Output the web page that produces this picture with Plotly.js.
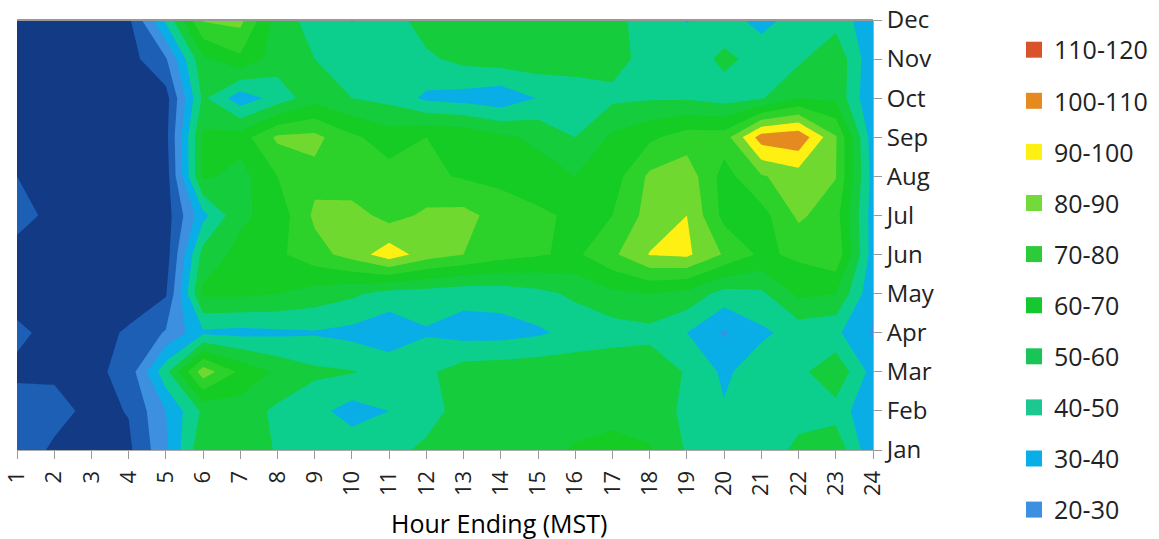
<!DOCTYPE html>
<html>
<head>
<meta charset="utf-8">
<script src="https://cdn.plot.ly/plotly-3.0.0.min.js"></script>
<style>html,body{margin:0;padding:0;background:#fff}#chart{width:1159px;height:539px}</style>
</head>
<body>
<div id="chart"></div>
<script>
const hours = [1,2,3,4,5,6,7,8,9,10,11,12,13,14,15,16,17,18,19,20,21,22,23,24];
const months = ['Jan','Feb','Mar','Apr','May','Jun','Jul','Aug','Sep','Oct','Nov','Dec'];
const jan = [17,8,6,8,28,58,57,49,47,46,47,52,57,57,58,60.5,62,61,49,44,45,52,57,32];
const feb = [15,14,7,10.5,30,52,55,48,43,36,40,46,54,56,57,58,58,55,48,41,44,47,46,31];
const mar = [8,8,7,14,47,86,68,58,52,50.5,47,48,55,56,57,57,58,57,49,38,46,47,58,36];
const apr = [12,7,7,11,21,38,37,38,39,37,33,39,36,36,38.5,43,45,47,40,29,38,44,42,29];
const may = [6,6,6,6,9,62,62,60,56,52,46,45,43,44,47,52,58,60,57,46,48,62,60,32];
const jun = [6,7,7,6,5,54,63,68,76,84,96,85,80,74,71,68,78,90.5,92,79,68,72,78,35];
const jul = [14,7,6,6,5,37,58,64,82,85,76,82,83,76,72,68,70,84,90,67,66,82,74,35];
const aug = [10,6,6,6,5,62,56,70,77,72,74,72,69,67,64,60,65,82,86,66,79,85,80.5,36];
const sep = [6,6,6,6,7,62,65,82,83,72,65,70,68,62,58,50,62,68,75,75,105,108,81,34];
const oct = [6,6,6,6,6,52,34,44,56,50,47,38,36,33,40.5,44,48,49,49,46,49,60,58,30];
const nov = [6,6,6,6,19,58,68,55,50,47,46,48,53,55,56,55,53,47,45,52,47,48,58,32];
const dec = [6,6,6,8,42,81,83,55,46,39.5,45,55,57,57,57,55,52,47,39.5,45,36,45,46,33];
const grid = [jan,feb,mar,apr,may,jun,jul,aug,sep,oct,nov,dec];
const bandColors = ['#123a85','#1c5fb5','#3d8fdf','#0aaee6','#0ccf8e','#14cc3c','#14cc24','#2cd22a','#6fd92f','#fff014','#e48a1e','#d9532a'];
const legendLabels = ['110-120','100-110','90-100','80-90','70-80','60-70','50-60','40-50','30-40','20-30'];
const legendColors = ['#d9532a','#e48a1e','#fff014','#74d93b','#2ccb38','#16c72f','#18c556','#1cc88f','#0aaee6','#3d8fdf'];

const n = bandColors.length;
const scale = [];
bandColors.forEach((c,i)=>{ scale.push([i/n,c]); scale.push([(i+1)/n,c]); });

const traces = [{
  type:'contour', x:hours, y:months, z:grid,
  autocontour:false,
  contours:{start:10,end:110,size:10,coloring:'fill',showlines:false},
  line:{width:0,smoothing:0},
  colorscale:scale, showscale:false, showlegend:false, hoverinfo:'skip'
}];
legendLabels.forEach((label,i)=>{
  traces.push({type:'scatter',mode:'markers',x:[null],y:[null],name:label,legendgroup:label,
    marker:{symbol:'square',size:16,color:legendColors[i]},showlegend:true});
});

const font = "'Open Sans', sans-serif";
Plotly.newPlot('chart',traces,{
  width:1159,height:539,
  margin:{l:17,r:286,t:20,b:89},
  paper_bgcolor:'#fff',plot_bgcolor:'#fff',
  font:{family:font,color:'#222'},
  xaxis:{type:'linear',range:[1,24],tick0:1,dtick:1,tickangle:-90,ticks:'outside',ticklen:8,tickcolor:'#999',
    tickfont:{size:22,family:font,color:'#222'},ticklabelstandoff:3,showgrid:false,zeroline:false,showline:true,linecolor:'#aaa'},
  yaxis:{type:'category',range:[0,11],side:'right',ticks:'outside',ticklen:8,tickcolor:'#999',
    tickfont:{size:24,family:font,color:'#222'},showgrid:false,zeroline:false,showline:true,linecolor:'#aaa',automargin:false},
  shapes:[{type:'line',xref:'paper',yref:'paper',x0:0,x1:1,y0:1,y1:1,line:{color:'#999',width:2}}],
  annotations:[{text:'Hour Ending (MST)',xref:'paper',yref:'paper',x:0.563,y:-0.1705,xanchor:'center',yanchor:'middle',showarrow:false,
    font:{size:25,family:font,color:'#000',weight:500}}],
  showlegend:true,
  legend:{xref:'container',yref:'container',x:0.8749,y:0.95,xanchor:'left',yanchor:'top',font:{size:25,family:font,color:'#222'},
    tracegroupgap:15.6,itemsizing:'trace',itemwidth:30,entrywidth:95,entrywidthmode:'pixels',maxheight:525,
    bgcolor:'rgba(0,0,0,0)',traceorder:'grouped',itemclick:false,itemdoubleclick:false}
},{displayModeBar:false,staticPlot:true});
</script>
</body>
</html>
